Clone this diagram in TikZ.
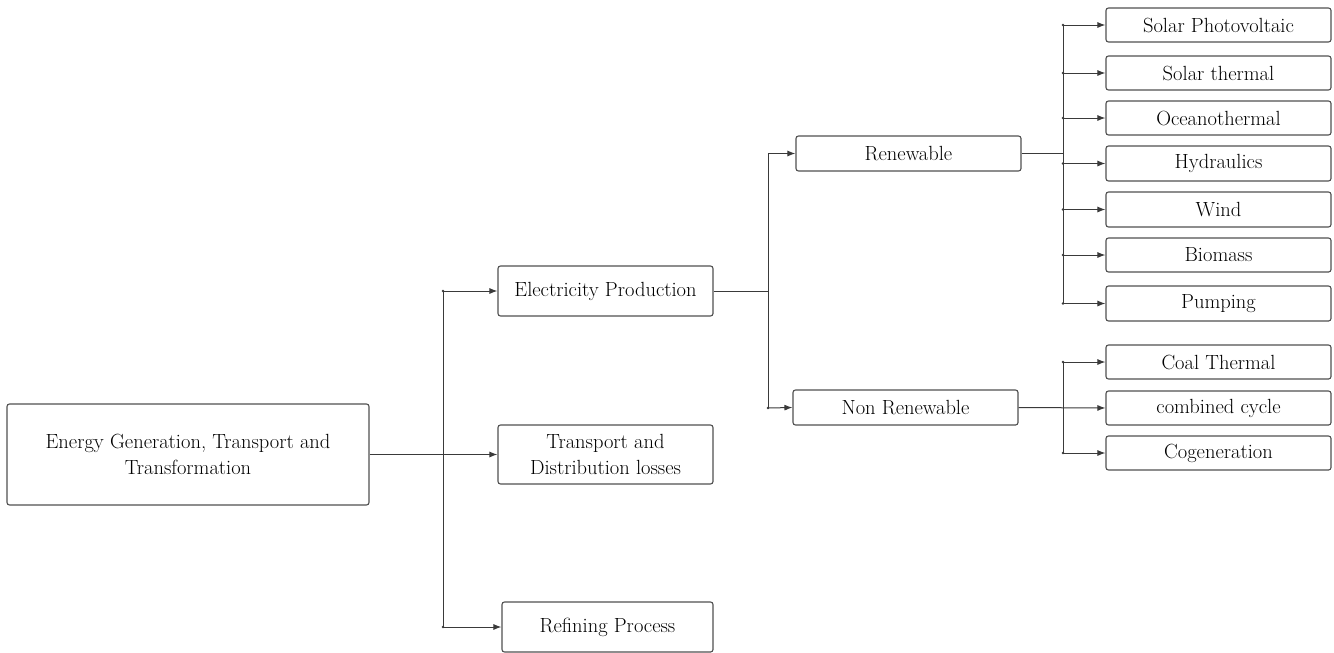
\documentclass[tikz,border=0pt]{standalone}
\usetikzlibrary{arrows.meta}
\definecolor{linec}{HTML}{3A3A3A}
\definecolor{boxc}{HTML}{505050}
\begin{document}
\begin{tikzpicture}[x=1pt,y=-1pt,
  box/.style={draw=boxc,line width=1.1pt,rounded corners=2.5pt,inner sep=0pt,align=center,
    font=\fontsize{20.5}{26}\selectfont},
  conn/.style={draw=linec,line width=1pt},
  arr/.style={conn,-{Latex[length=8pt,width=6pt]}},
  dot/.style={fill=linec,circle,inner sep=0pt,minimum size=2.6pt}]
\useasboundingbox (0,0) rectangle (1334,653);
% nodes
\node[box,minimum width=362pt,minimum height=101pt] (root) at (188,454.5) {Energy Generation, Transport and\\Transformation};
\node[box,minimum width=215pt,minimum height=50pt] (elec) at (605.5,291) {Electricity Production};
\node[box,minimum width=215pt,minimum height=59pt] (trans) at (605.5,454.5) {Transport and\\Distribution losses};
\node[box,minimum width=211pt,minimum height=50pt] (ref) at (607.5,627) {Refining Process};
\node[box,minimum width=225pt,minimum height=35pt] (ren) at (908.5,153.5) {Renewable};
\node[box,minimum width=225pt,minimum height=35pt] (nren) at (905.5,407.5) {Non Renewable};
\node[box,minimum width=225pt,minimum height=34pt] (l1) at (1218.5,25) {Solar Photovoltaic};
\node[box,minimum width=225pt,minimum height=34pt] (l2) at (1218.5,73) {Solar thermal};
\node[box,minimum width=225pt,minimum height=34pt] (l3) at (1218.5,118) {Oceanothermal};
\node[box,minimum width=225pt,minimum height=35pt] (l4) at (1218.5,163.5) {Hydraulics};
\node[box,minimum width=225pt,minimum height=35pt] (l5) at (1218.5,209.5) {Wind};
\node[box,minimum width=225pt,minimum height=34pt] (l6) at (1218.5,255) {Biomass};
\node[box,minimum width=225pt,minimum height=35pt] (l7) at (1218.5,303.5) {Pumping};
\node[box,minimum width=225pt,minimum height=34pt] (l8) at (1218.5,362) {Coal Thermal};
\node[box,minimum width=225pt,minimum height=34pt] (l9) at (1218.5,408) {combined cycle};
\node[box,minimum width=225pt,minimum height=34pt] (l10) at (1218.5,453) {Cogeneration};
% junction coordinates
\coordinate (a1) at (443,291);
\coordinate (a2) at (443,627);
\coordinate (b1) at (768,153.5);
\coordinate (b2) at (768,408);
\coordinate (c1) at (1063,25);
\coordinate (c2) at (1063,303.5);
\coordinate (d1) at (1063,362);
\coordinate (d2) at (1063,453);
% level 1
\draw[conn] (a1) -- (a2);
\draw[arr] (root.east) -- (trans.west);
\draw[arr] (a1) -- (elec.west);
\draw[arr] (a2) -- (ref.west);
% level 2
\draw[conn] (elec.east) -- (elec.east -| b1);
\draw[conn] (b1) -- (b2);
\draw[arr] (b1) -- (ren.west);
\draw[arr] (b2) -- (nren.west);
% renewable leaves
\draw[conn] (ren.east) -- (ren.east -| c1);
\draw[conn] (c1) -- (c2);
\foreach \n in {l1,l2,l3,l4,l5,l6,l7}{
  \draw[arr] (\n.west -| c1) -- (\n.west);
  \node[dot] at (\n.west -| c1) {};
}
% non renewable leaves
\draw[conn] (d1) -- (d2);
\draw[arr] (nren.east) -- (l9.west);
\foreach \n in {l8,l10}{
  \draw[arr] (\n.west -| d1) -- (\n.west);
  \node[dot] at (\n.west -| d1) {};
}
\foreach \p in {a1,a2,b2}{\node[dot] at (\p) {};}
\end{tikzpicture}
\end{document}
